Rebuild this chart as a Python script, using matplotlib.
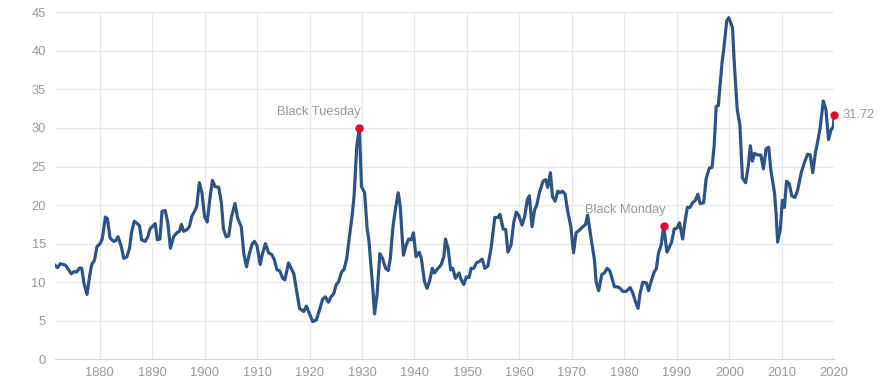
import matplotlib
matplotlib.use('Agg')
import matplotlib.pyplot as plt

plt.rcParams['font.family'] = ['Liberation Sans', 'DejaVu Sans']

#===================== DATA ===================================================
years = [1871.5, 1872.0, 1872.5, 1873.5, 1874.1, 1874.6, 1875.2, 1875.6, 1876.2, 1876.6,
         1877.0, 1877.6, 1878.1, 1878.5, 1879.0, 1879.5, 1880.1, 1880.5, 1881.1, 1881.5,
         1882.0, 1882.7, 1883.1, 1883.5, 1884.1, 1884.6, 1885.2, 1885.7, 1886.1, 1886.6,
         1887.2, 1887.6, 1888.0, 1888.7, 1889.2, 1889.6, 1890.6, 1891.0, 1891.5, 1891.9,
         1892.5, 1893.0, 1893.5, 1894.1, 1894.7, 1895.2, 1895.6, 1896.0, 1896.6, 1897.1,
         1897.6, 1898.1, 1898.5, 1899.0, 1899.5, 1900.0, 1900.5, 1901.1, 1901.5, 1902.0,
         1902.7, 1903.2, 1903.6, 1904.1, 1904.6, 1905.1, 1905.8, 1906.3, 1907.0, 1907.5,
         1908.0, 1908.5, 1909.1, 1909.5, 1910.0, 1910.6, 1911.0, 1911.6, 1912.2, 1912.8,
         1913.3, 1913.8, 1914.3, 1914.9, 1915.3, 1916.0, 1917.0, 1917.6, 1918.1, 1918.9,
         1919.4, 1920.0, 1920.6, 1921.3, 1921.9, 1922.5, 1923.0, 1923.6, 1924.1, 1924.6,
         1925.1, 1925.5, 1926.1, 1926.6, 1927.1, 1927.6, 1928.1, 1928.5, 1929.0, 1929.5,
         1929.9, 1930.5, 1931.0, 1931.3, 1932.0, 1932.4, 1932.9, 1933.4, 1933.9, 1934.5,
         1935.0, 1935.4, 1935.9, 1936.4, 1936.9, 1937.3, 1937.6, 1937.9, 1938.4, 1938.9,
         1939.4, 1939.8, 1940.3, 1940.9, 1941.3, 1941.9, 1942.4, 1942.9, 1943.4, 1943.8,
         1944.5, 1945.1, 1945.6, 1945.9, 1946.4, 1946.9, 1947.3, 1947.8, 1948.5, 1948.9,
         1949.4, 1949.9, 1950.4, 1950.8, 1951.3, 1951.8, 1952.4, 1952.9, 1953.4, 1954.0,
         1954.6, 1955.3, 1955.9, 1956.3, 1956.9, 1957.4, 1957.8, 1958.4, 1958.9, 1959.4,
         1959.9, 1960.5, 1961.0, 1961.5, 1961.9, 1962.4, 1962.9, 1963.3, 1963.8, 1964.5,
         1965.0, 1965.4, 1965.9, 1966.3, 1966.8, 1967.3, 1967.7, 1968.2, 1968.7, 1969.2,
         1969.8, 1970.3, 1970.8, 1971.5, 1972.1, 1972.6, 1973.0, 1973.6, 1974.3, 1974.6,
         1975.1, 1975.7, 1976.2, 1976.7, 1977.2, 1977.6, 1978.1, 1978.7, 1979.2, 1979.7,
         1980.3, 1981.1, 1981.6, 1982.1, 1982.6, 1983.0, 1983.5, 1984.2, 1984.6, 1985.1,
         1985.6, 1986.1, 1986.5, 1987.0, 1987.5, 1988.1, 1988.6, 1989.0, 1989.5, 1990.0,
         1990.5, 1991.1, 1991.6, 1992.0, 1992.5, 1993.0, 1993.5, 1994.0, 1994.4, 1995.1,
         1995.6, 1996.2, 1996.7, 1997.1, 1997.5, 1997.9, 1998.6, 1999.0, 1999.5, 1999.9,
         2000.6, 2000.9, 2001.5, 2002.0, 2002.5, 2003.1, 2003.6, 2004.0, 2004.4, 2004.8,
         2005.4, 2006.0, 2006.5, 2007.0, 2007.5, 2007.9, 2008.6, 2008.9, 2009.2, 2009.7,
         2010.1, 2010.5, 2010.9, 2011.4, 2011.9, 2012.5, 2013.0, 2013.7, 2014.3, 2014.9,
         2015.4, 2015.9, 2016.4, 2016.8, 2017.3, 2017.9, 2018.4, 2018.9, 2019.4, 2019.8,
         2020.0]
cape = [12.2, 11.9, 12.4, 12.2, 11.6, 11.1, 11.4, 11.3, 11.85, 11.8,
        9.9, 8.4, 10.8, 12.3, 12.8, 14.6, 15.0, 15.6, 18.45, 18.2,
        15.7, 15.3, 15.4, 15.9, 14.7, 13.1, 13.3, 14.4, 16.5, 17.9,
        17.6, 17.3, 15.5, 15.3, 15.9, 16.9, 17.6, 15.5, 15.6, 19.2,
        19.3, 17.7, 14.4, 15.9, 16.4, 16.6, 17.5, 16.6, 16.8, 17.2,
        18.6, 19.2, 19.8, 22.9, 21.6, 18.5, 17.8, 21.3, 23.2, 22.4,
        22.3, 20.3, 16.9, 15.9, 16.0, 18.4, 20.2, 18.3, 17.2, 13.6,
        12.0, 13.6, 15.0, 15.3, 14.7, 12.3, 13.6, 15.0, 13.8, 13.6,
        12.9, 11.6, 11.5, 10.5, 10.3, 12.5, 11.1, 8.6, 6.6, 6.2,
        6.9, 5.9, 4.9, 5.1, 6.4, 7.8, 8.1, 7.4, 8.1, 8.5,
        9.7, 10.0, 11.3, 11.7, 13.1, 15.9, 18.5, 21.2, 27.6, 30.0,
        22.4, 21.6, 16.8, 15.5, 9.7, 5.9, 8.6, 13.7, 13.1, 11.8,
        11.5, 13.1, 17.2, 19.6, 21.6, 19.8, 16.4, 13.5, 14.8, 15.6,
        15.5, 16.4, 13.3, 13.9, 13.1, 10.1, 9.2, 10.2, 11.8, 11.2,
        11.8, 12.3, 13.3, 15.6, 14.4, 11.6, 11.8, 10.5, 11.2, 10.3,
        9.7, 10.7, 10.6, 11.8, 11.8, 12.5, 12.7, 13.0, 11.8, 12.1,
        14.4, 18.4, 18.4, 18.8, 16.9, 16.8, 13.9, 14.8, 17.7, 19.1,
        18.6, 17.4, 18.5, 20.7, 21.2, 17.2, 19.4, 20.0, 21.6, 23.1,
        23.3, 22.3, 24.2, 21.1, 20.5, 21.8, 21.6, 21.8, 21.4, 19.2,
        17.2, 13.8, 16.4, 16.8, 17.2, 17.5, 18.7, 15.9, 12.9, 10.1,
        8.9, 11.0, 11.2, 11.8, 11.5, 10.6, 9.4, 9.4, 9.2, 8.8,
        8.8, 9.3, 8.6, 7.5, 6.6, 8.6, 10.0, 9.9, 8.9, 10.1,
        11.2, 11.8, 13.8, 14.8, 17.3, 13.9, 14.6, 15.2, 16.9, 17.0,
        17.7, 15.6, 18.1, 19.7, 19.7, 20.3, 20.6, 21.4, 20.2, 20.3,
        23.5, 24.8, 24.9, 27.6, 32.8, 32.9, 38.4, 40.6, 43.9, 44.3,
        43.0, 38.9, 32.4, 30.4, 23.5, 22.9, 25.0, 27.7, 25.7, 26.7,
        26.5, 26.5, 24.7, 27.3, 27.5, 24.6, 21.6, 19.0, 15.2, 16.8,
        20.6, 19.7, 23.1, 22.8, 21.2, 21.0, 21.9, 24.2, 25.5, 26.6,
        26.5, 24.2, 26.8, 28.1, 30.0, 33.5, 32.4, 28.5, 29.8, 30.1,
        31.72]

# highlighted points
eventYears = [1929.5, 1987.5]
eventValues = [30.0, 17.3]
eventLabels = ['Black Tuesday', 'Black Monday']
lastYear = 2020.0
lastValue = 31.72
#===================== END DATA ==========================

lineColor = '#2e5486'
dotColor = '#e8002b'
textColor = '#999999'
fontSize = 9.3

fig = plt.figure(figsize=(8.9, 3.84), dpi=100)
ax = fig.add_axes([55/890, 1 - 359.3/384, (834.3 - 55)/890, (359.3 - 12.3)/384])

ax.plot(years, cape, color=lineColor, linewidth=2.3, solid_joinstyle='round', zorder=3)

# red event markers + labels (right-aligned on the dot)
ax.plot(eventYears, eventValues, 'o', color=dotColor, markersize=5, zorder=4)
for yr, val, lab in zip(eventYears, eventValues, eventLabels):
    ax.annotate(lab, (yr, val), xytext=(1, 7), textcoords='offset points',
                ha='right', va='bottom', color=textColor, fontsize=fontSize)

# last value
ax.plot([lastYear], [lastValue], 'o', color=dotColor, markersize=5, zorder=4, clip_on=False)
ax.annotate('%.2f' % lastValue, (lastYear, lastValue), xytext=(6, 0), textcoords='offset points',
            ha='left', va='center', color=textColor, fontsize=fontSize, annotation_clip=False)

# axes
ax.set_xlim(1871.5, 2020)
ax.set_ylim(0, 45)
ax.set_xticks(range(1880, 2021, 10))
ax.set_yticks(range(0, 46, 5))
ax.grid(True, color='#e8e8e8', linewidth=0.9)
ax.set_axisbelow(True)
ax.tick_params(length=0, colors=textColor, labelsize=fontSize)
ax.tick_params(axis='y', pad=6.5)
ax.tick_params(axis='x', pad=5.5)
for s in ['left', 'top', 'right']:
    ax.spines[s].set_visible(False)
ax.spines['bottom'].set_color('#d4d4d4')

fig.savefig('out.png', dpi=100)
